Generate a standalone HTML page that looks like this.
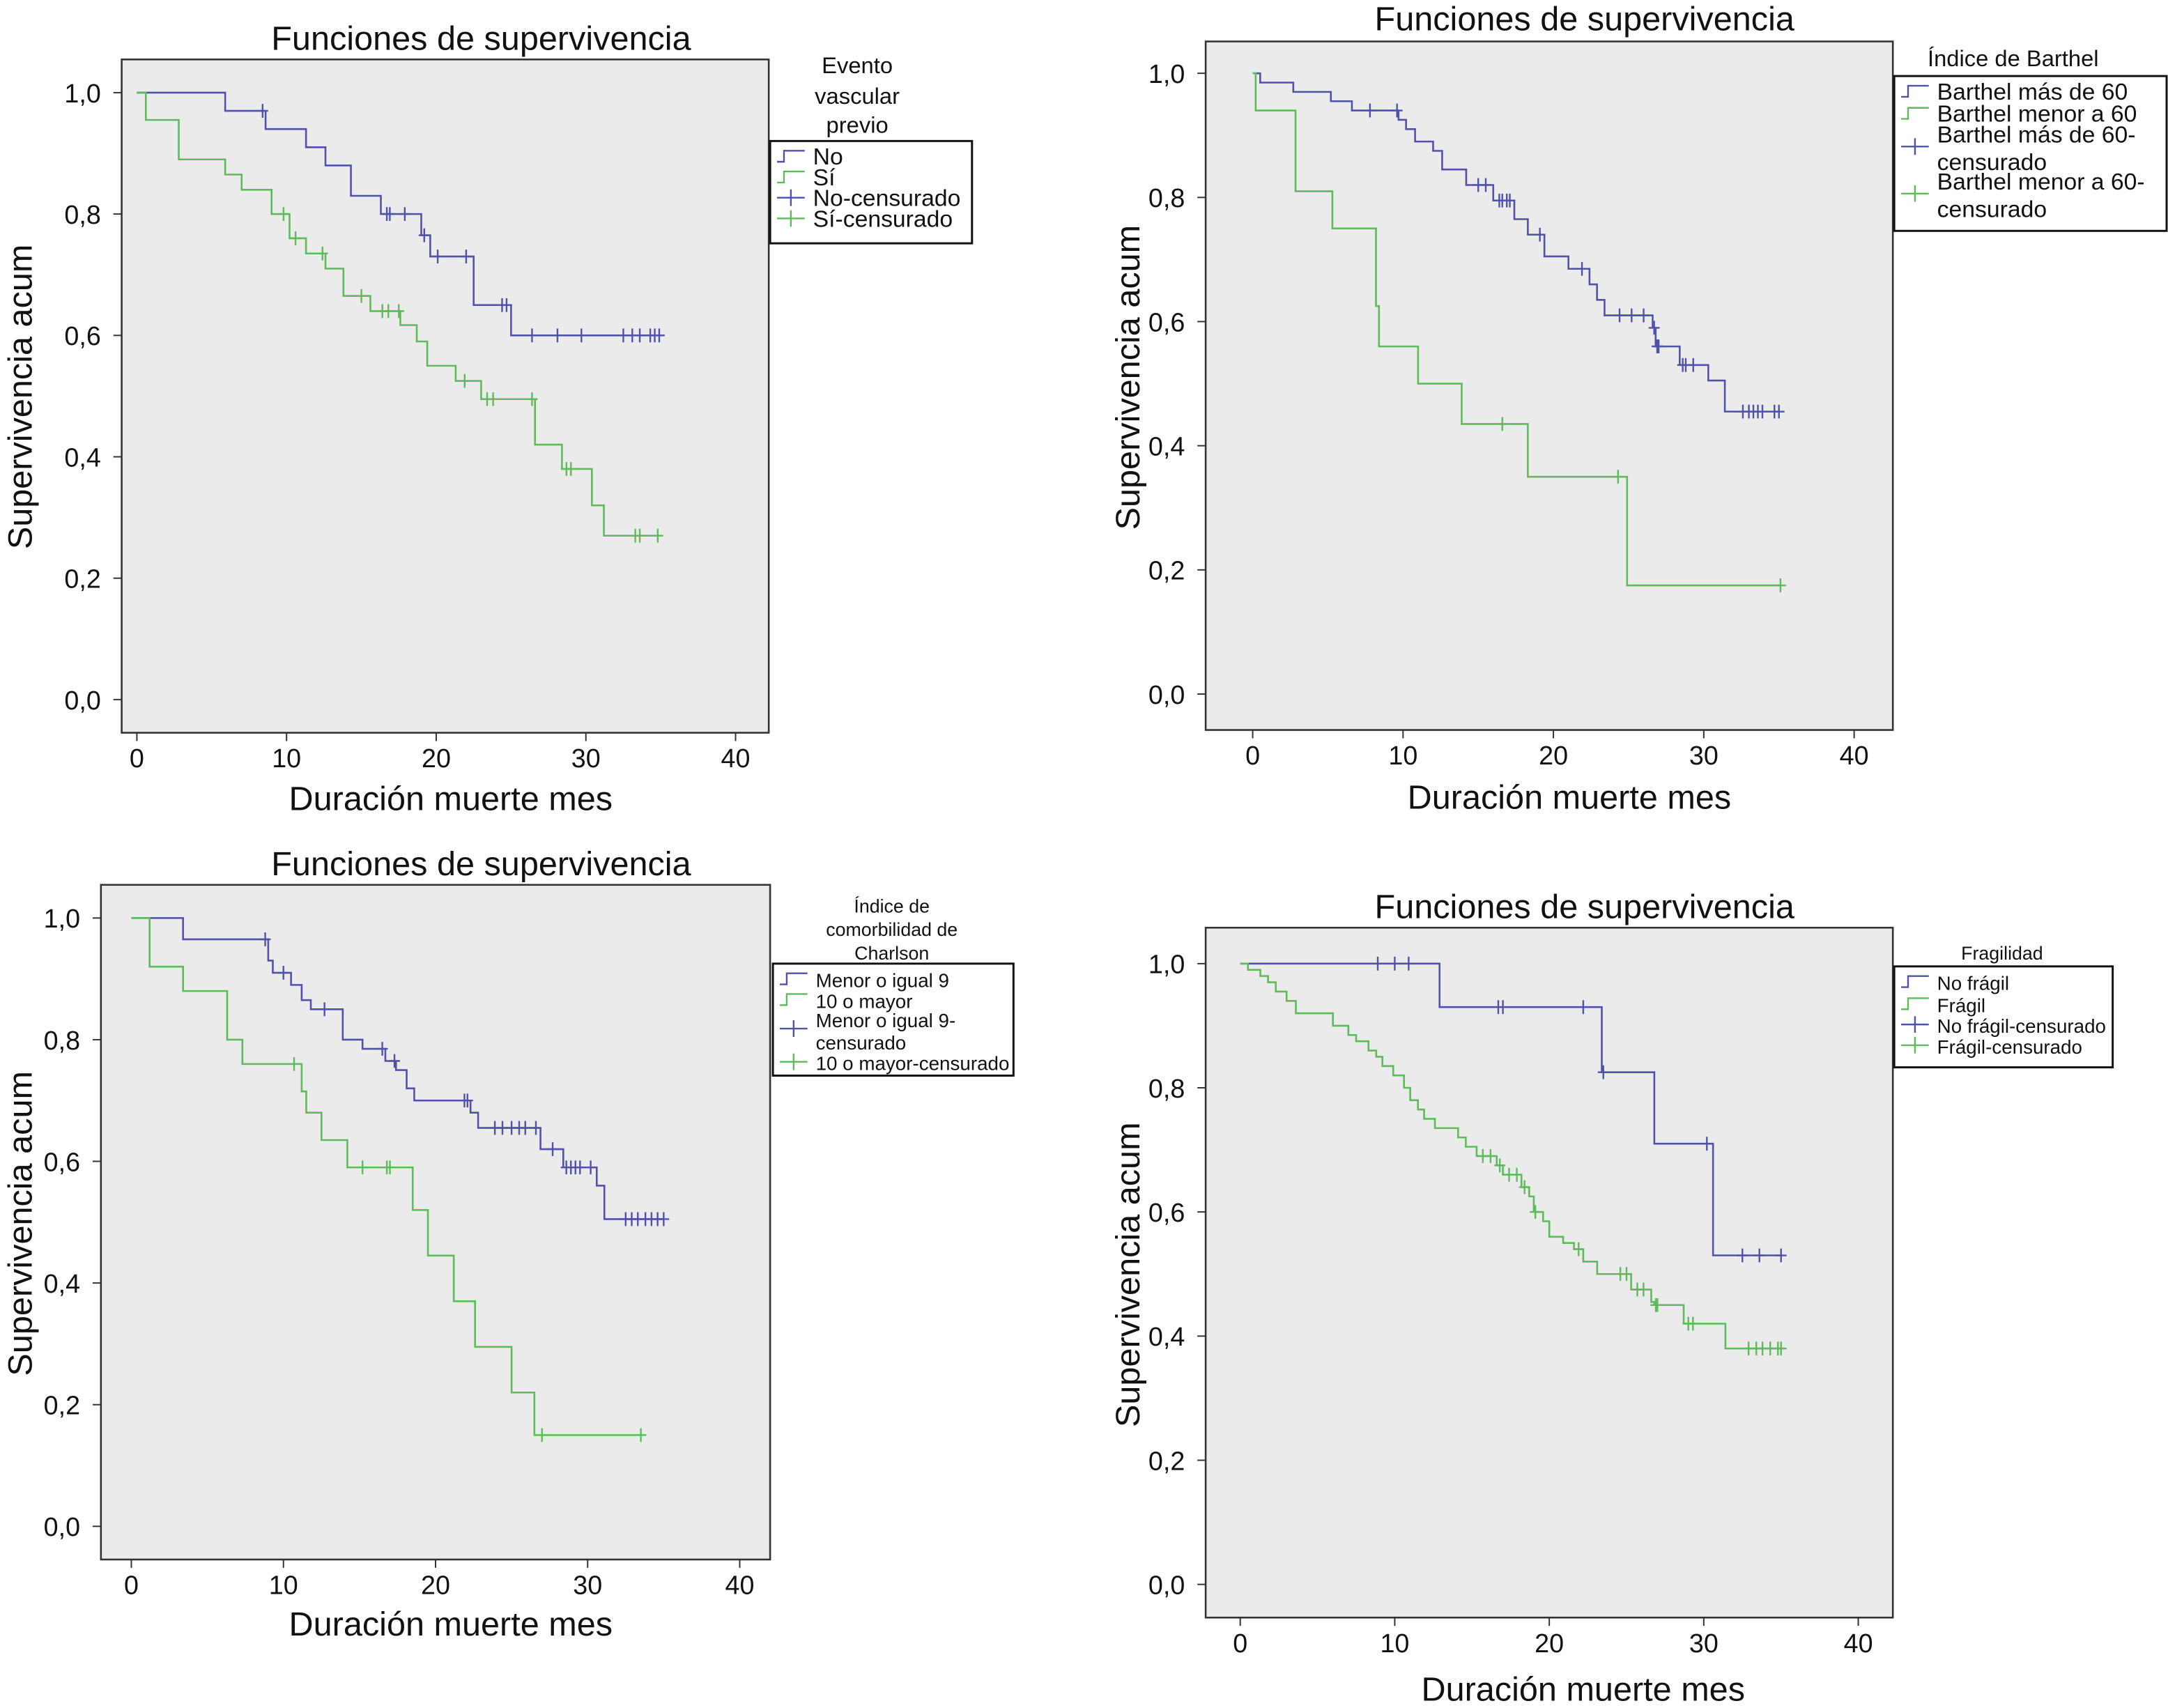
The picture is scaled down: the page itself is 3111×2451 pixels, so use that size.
<!DOCTYPE html>
<html><head><meta charset="utf-8">
<style>
html,body{margin:0;padding:0;background:#fff;}
svg{display:block;font-family:"Liberation Sans",Arial,sans-serif;}
</style></head>
<body>
<svg id="chart" width="3111" height="2451" viewBox="0 0 1568 1235.4" preserveAspectRatio="none" xmlns="http://www.w3.org/2000/svg"></svg>
<script>
// ---- Panel 1: Evento vascular previo ----
const p1BlueT = [5.9, 8.6, 11.3, 12.6, 14.3, 16.3, 19.0, 19.6, 22.5, 25.0];
const p1BlueS = [0.97, 0.94, 0.91, 0.88, 0.83, 0.80, 0.765, 0.73, 0.65, 0.60];
const p1BlueC = [8.4, 16.7, 16.9, 17.9, 19.2, 20.1, 22.0, 24.4, 24.7, 26.4, 28.1, 29.7, 32.5, 33.1, 33.6, 34.3, 34.6, 34.9];
const p1GreenT = [0.6, 2.8, 5.9, 7.0, 9.0, 10.2, 11.3, 12.6, 13.8, 15.6, 17.6, 18.7, 19.4, 21.3, 23.0, 26.6, 28.4, 30.4, 31.2];
const p1GreenS = [0.955, 0.89, 0.865, 0.84, 0.80, 0.76, 0.735, 0.71, 0.665, 0.64, 0.617, 0.59, 0.55, 0.525, 0.495, 0.42, 0.38, 0.32, 0.27];
const p1GreenC = [9.8, 10.6, 12.4, 15.0, 16.4, 16.8, 17.5, 21.9, 23.4, 23.8, 26.4, 28.7, 29.0, 33.3, 33.6, 34.8];
// ---- Panel 2: Barthel ----
const p2BlueT = [0.5, 2.7, 5.2, 6.6, 9.7, 10.2, 10.8, 12.0, 12.6, 14.2, 16.0, 17.4, 18.3, 19.4, 21.0, 22.4, 22.9, 23.4, 26.6, 26.8, 28.4, 30.3, 31.4];
const p2BlueS = [0.985, 0.97, 0.955, 0.94, 0.925, 0.91, 0.89, 0.875, 0.845, 0.82, 0.795, 0.765, 0.74, 0.705, 0.685, 0.66, 0.635, 0.61, 0.59, 0.56, 0.53, 0.505, 0.455];
const p2BlueC = [7.8, 9.6, 15.0, 15.5, 16.4, 16.6, 16.9, 17.1, 19.1, 21.9, 24.4, 25.2, 26.0, 26.7, 26.9, 27.0, 28.6, 28.8, 29.3, 32.6, 33.0, 33.3, 33.6, 33.9, 34.7, 35.0];
const p2GreenT = [0.2, 2.85, 5.3, 8.2, 8.4, 11.0, 13.9, 18.3, 24.9];
const p2GreenS = [0.94, 0.81, 0.75, 0.625, 0.56, 0.50, 0.435, 0.35, 0.175];
const p2GreenC = [16.6, 24.3, 35.1];
// ---- Panel 3: Charlson ----
const p3BlueT = [3.4, 9.0, 9.3, 10.5, 11.2, 11.8, 13.9, 15.2, 16.7, 17.4, 18.1, 18.6, 22.3, 22.8, 26.9, 28.4, 30.6, 31.1];
const p3BlueS = [0.965, 0.93, 0.91, 0.89, 0.865, 0.85, 0.80, 0.785, 0.765, 0.75, 0.72, 0.70, 0.68, 0.655, 0.62, 0.59, 0.56, 0.505];
const p3BlueC = [8.8, 10.0, 12.7, 16.5, 17.3, 21.9, 22.1, 23.9, 24.4, 25.0, 25.5, 25.9, 26.6, 27.7, 28.6, 28.9, 29.2, 29.5, 30.2, 32.5, 32.9, 33.3, 33.8, 34.2, 34.6, 35.0];
const p3GreenT = [1.2, 3.4, 6.3, 7.3, 11.2, 11.5, 12.5, 14.2, 18.5, 19.5, 21.2, 22.6, 25.0, 26.5];
const p3GreenS = [0.92, 0.88, 0.80, 0.76, 0.715, 0.68, 0.635, 0.59, 0.52, 0.445, 0.37, 0.295, 0.22, 0.15];
const p3GreenC = [10.7, 15.2, 16.8, 17.0, 27.0, 33.5];
// ---- Panel 4: Fragilidad ----
const p4BlueT = [12.9, 23.4, 26.8, 30.6];
const p4BlueS = [0.93, 0.825, 0.71, 0.53];
const p4BlueC = [8.9, 10.0, 10.9, 16.7, 17.0, 22.2, 23.5, 30.2, 32.5, 33.6, 35.0];
const p4GreenT = [0.5, 1.3, 1.8, 2.3, 3.0, 3.6, 6.0, 7.0, 7.5, 8.3, 8.8, 9.2, 9.9, 10.6, 11.0, 11.5, 11.9, 12.6, 14.1, 14.6, 15.3, 16.6, 17.0, 18.2, 18.7, 19.0, 19.6, 20.0, 20.9, 21.6, 22.2, 23.1, 25.3, 26.6, 26.8, 28.7, 31.4];
const p4GreenS = [0.99, 0.98, 0.97, 0.955, 0.94, 0.92, 0.90, 0.885, 0.875, 0.86, 0.85, 0.835, 0.82, 0.80, 0.78, 0.765, 0.75, 0.735, 0.72, 0.705, 0.69, 0.675, 0.66, 0.64, 0.625, 0.60, 0.585, 0.56, 0.55, 0.54, 0.52, 0.50, 0.475, 0.455, 0.45, 0.42, 0.38];
const p4GreenC = [15.7, 16.2, 16.8, 17.4, 17.9, 18.4, 19.1, 21.9, 24.6, 25.0, 25.7, 26.1, 26.9, 27.0, 29.0, 29.3, 32.9, 33.4, 33.8, 34.3, 34.8, 35.0];

const xTicks = [0, 10, 20, 30, 40];
const yTicks = [0, 0.2, 0.4, 0.6, 0.8, 1.0];
const yTickLabels = ["0,0", "0,2", "0,4", "0,6", "0,8", "1,0"];

const BLUE = "#4f52a8", GREEN = "#5dbb5a";
const NS = "http://www.w3.org/2000/svg";
const svg = document.getElementById('chart');
function el(tag, attrs, parent, text) {
  const e = document.createElementNS(NS, tag);
  for (const k in attrs) e.setAttribute(k, attrs[k]);
  if (text !== undefined) e.textContent = text;
  (parent || svg).appendChild(e);
  return e;
}

const panels = [
  {box:[88,43,556,530], x0:99, x40:532, y1:67, y0:506, title:[348,27], xl:[326,577], yl:[14,287],
   bT:p1BlueT,bS:p1BlueS,bC:p1BlueC,gT:p1GreenT,gS:p1GreenS,gC:p1GreenC,bEnd:35,gEnd:35,
   legTitle:[["Evento",620,48],["vascular",620,70],["previo",620,91]], legBox:[557,102,703,176], fs:17, titleFs:16.5,
   entries:[["No",113],["Sí",128],["No-censurado",143],["Sí-censurado",158]], legX:562, name:'evento-vascular'},
  {box:[872,30,1369,528], x0:906, x40:1341, y1:53, y0:502, title:[1146,13], xl:[1135,576], yl:[815,273],
   bT:p2BlueT,bS:p2BlueS,bC:p2BlueC,gT:p2GreenT,gS:p2GreenS,gC:p2GreenC,bEnd:35,gEnd:35.1,
   legTitle:[["Índice de Barthel",1456,43]], legBox:[1370,55,1567,167], fs:17, titleFs:16.5,
   entries:[["Barthel más de 60",66],["Barthel menor a 60",82],["Barthel más de 60-|censurado",97],["Barthel menor a 60-|censurado",131]], legX:1375, name:'barthel'},
  {box:[73,640,557,1128], x0:95, x40:535, y1:664, y0:1104, title:[348,624], xl:[326,1174], yl:[14,885],
   bT:p3BlueT,bS:p3BlueS,bC:p3BlueC,gT:p3GreenT,gS:p3GreenS,gC:p3GreenC,bEnd:35,gEnd:33.7,
   legTitle:[["Índice de",645,655],["comorbilidad de",645,672],["Charlson",645,689]], legBox:[559,697,733,778], fs:14, titleFs:13.5,
   entries:[["Menor o igual 9",708],["10 o mayor",723],["Menor o igual 9-|censurado",737],["10 o mayor-censurado",768]], legX:564, name:'charlson'},
  {box:[872,671,1369,1170], x0:897, x40:1344, y1:697, y0:1146, title:[1146,655], xl:[1145,1221], yl:[815,922],
   bT:p4BlueT,bS:p4BlueS,bC:p4BlueC,gT:p4GreenT,gS:p4GreenS,gC:p4GreenC,bEnd:35,gEnd:35,
   legTitle:[["Fragilidad",1448,689]], legBox:[1370,699,1528,772], fs:14, titleFs:13.5,
   entries:[["No frágil",710],["Frágil",726],["No frágil-censurado",741],["Frágil-censurado",756]], legX:1375, name:'fragilidad'}
];

function survAt(T, S, t) {
  let s = 1;
  for (let i = 0; i < T.length; i++) if (T[i] <= t) s = S[i];
  return s;
}

panels.forEach((p, pi) => {
  const g = el('g', {});
  
  
  const xs = v => p.x0 + (p.x40 - p.x0) * v / 40;
  const ys = v => p.y0 + (p.y1 - p.y0) * v;
  const [bx1, by1, bx2, by2] = p.box;
  const bg = el('rect', {x:bx1, y:by1, width:bx2-bx1, height:by2-by1, fill:'#ebebeb', stroke:'#333', 'stroke-width':1.3}, g);
  
  
  const t = el('text', {x:p.title[0], y:p.title[1]+9, 'text-anchor':'middle', 'font-size':24.5, fill:'#111'}, g, 'Funciones de supervivencia');
  
  
  const xl = el('text', {x:p.xl[0], y:p.xl[1]+9, 'text-anchor':'middle', 'font-size':24.5, fill:'#111'}, g, 'Duración muerte mes');
  
  
  const yl = el('text', {x:0, y:0, 'text-anchor':'middle', 'font-size':24.5, fill:'#111', transform:`translate(${p.yl[0]+9},${p.yl[1]}) rotate(-90)`}, g, 'Supervivencia acum');
  
  
  xTicks.forEach(v => {
    el('line', {x1:xs(v), x2:xs(v), y1:by2, y2:by2+6, stroke:'#333', 'stroke-width':1}, g);
    const tx = el('text', {x:xs(v), y:by2+25, 'text-anchor':'middle', 'font-size':19, fill:'#111'}, g, String(v));
    
    
  });
  yTicks.forEach((v, i) => {
    el('line', {x1:bx1-6, x2:bx1, y1:ys(v), y2:ys(v), stroke:'#333', 'stroke-width':1}, g);
    const ty = el('text', {x:bx1-15, y:ys(v)+7, 'text-anchor':'end', 'font-size':19, fill:'#111'}, g, yTickLabels[i]);
    
    
  });
  function series(T, S, C, end, color, nm) {
    let d = `M${xs(0)},${ys(1)}`;
    for (let i = 0; i < T.length; i++) {
      d += ` H${xs(T[i])} V${ys(S[i])}`;
    }
    d += ` H${xs(end)}`;
    const path = el('path', {d, fill:'none', stroke:color, 'stroke-width':1.3}, g);
    
    
    C.forEach(c => {
      const cx = xs(c), cy = ys(survAt(T, S, c));
      const m = el('path', {d:`M${cx},${cy-5} V${cy+5} M${cx-4},${cy} H${cx+4}`, stroke:color, 'stroke-width':1.2}, g);
      
      
    });
  }
  series(p.bT, p.bS, p.bC, p.bEnd, BLUE, 'blue');
  series(p.gT, p.gS, p.gC, p.gEnd, GREEN, 'green');
  const lg = el('g', {}, g);
  
  
  p.legTitle.forEach(lt => {
    el('text', {x:lt[1], y:lt[2]+5, 'text-anchor':'middle', 'font-size':p.titleFs, fill:'#111'}, lg, lt[0]);
  });
  const [lx1, ly1, lx2, ly2] = p.legBox;
  el('rect', {x:lx1, y:ly1, width:lx2-lx1, height:ly2-ly1, fill:'#fff', stroke:'#111', 'stroke-width':1.5}, lg);
  p.entries.forEach((en, i) => {
    const color = (i % 2 === 0) ? BLUE : GREEN;
    const y = en[1];
    const ix = p.legX;
    const eg = el('g', {}, lg);
    
    
    const lines = en[0].split('|');
    const big = p.fs > 15;
    const iy = lines.length > 1 ? y + (big ? 9 : 7) : y;
    if (i < 2) el('path', {d:`M${ix},${iy+4} H${ix+5} V${iy-4} H${ix+20}`, fill:'none', stroke:color, 'stroke-width':1.2}, eg);
    else el('path', {d:`M${ix},${iy} H${ix+20} M${ix+10},${iy-6} V${iy+6}`, fill:'none', stroke:color, 'stroke-width':1.2}, eg);
    lines.forEach((ln, k) => {
      el('text', {x:ix+26, y:y+6+k*(big?20:16), 'font-size':p.fs, fill:'#111'}, eg, ln);
    });
  });
});
</script>
</body></html>
